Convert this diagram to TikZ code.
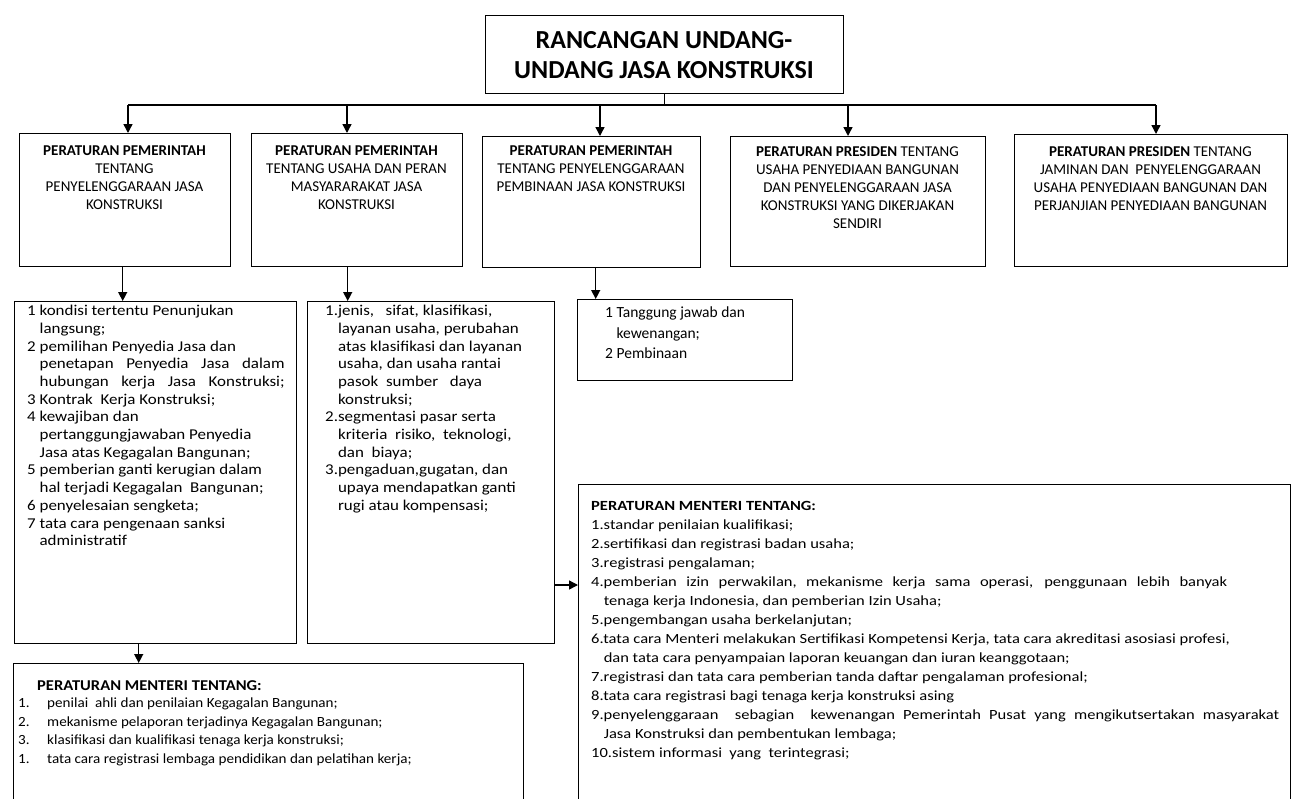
\documentclass[tikz,border=0pt]{standalone}
\usepackage{fontspec}
\setmainfont{Carlito}
\newfontfamily\widefont{Carlito}[FakeStretch=1.13]
\newfontfamily\botfont{Carlito}[FakeStretch=1.08]
\newfontfamily\bothead{Carlito}[FakeStretch=1.1]
\newfontfamily\bigfont{Carlito}[FakeStretch=1.18]
\usetikzlibrary{arrows.meta}
\begin{document}
\begin{tikzpicture}[x=1pt,y=-1pt,
  box/.style={draw, line width=1.4pt, anchor=north west, inner sep=0pt},
  conn/.style={line width=1.4pt},
  arr/.style={line width=1.4pt, -{Triangle[length=9pt,width=9pt]}},
  head/.style={inner sep=0pt, anchor=north, align=center, font=\fontsize{15}{18}\selectfont},
  lst/.style={inner sep=0pt, anchor=north west, align=left, font=\widefont\fontsize{15}{17.7}\selectfont},
  lstb/.style={inner sep=0pt, anchor=north west, align=left, font=\bigfont\fontsize{14}{19}\selectfont},
  ]
\useasboundingbox (0,0) rectangle (1293,798);
\clip (0,0) rectangle (1293,798);
% boxes
\node[box, minimum width=358pt, minimum height=78pt] (top) at (485,15) {};
\node[box, minimum width=211pt, minimum height=133pt] (b1) at (19,133) {};
\node[box, minimum width=211pt, minimum height=133pt] (b2) at (251,133) {};
\node[box, minimum width=218pt, minimum height=131pt] (b3) at (482,136) {};
\node[box, minimum width=255pt, minimum height=130pt] (b4) at (730,136) {};
\node[box, minimum width=273pt, minimum height=132pt] (b5) at (1014,134) {};
\node[box, minimum width=282pt, minimum height=342pt] (l1) at (14,301) {};
\node[box, minimum width=247pt, minimum height=342pt] (l2) at (307,301) {};
\node[box, minimum width=215pt, minimum height=81pt] (l3) at (577,299) {};
\node[box, minimum width=510pt, minimum height=160pt] (m1) at (13,663) {};
\node[box, minimum width=712pt, minimum height=340pt] (m2) at (578,484) {};
% texts
\node[inner sep=0pt, anchor=north, align=center, font=\bfseries\fontsize{26}{30}\selectfont] (ttop) at (664,31.5) {RANCANGAN UNDANG-\\UNDANG JASA KONSTRUKSI};
\node[head] (t1) at (124.5,146) {\textbf{PERATURAN PEMERINTAH}\\TENTANG\\PENYELENGGARAAN JASA\\KONSTRUKSI};
\node[head] (t2) at (356.5,146) {\textbf{PERATURAN PEMERINTAH}\\TENTANG USAHA DAN PERAN\\MASYARARAKAT JASA\\KONSTRUKSI};
\node[head] (t3) at (591,146) {\textbf{PERATURAN PEMERINTAH}\\TENTANG PENYELENGGARAAN\\PEMBINAAN JASA KONSTRUKSI};
\node[head] (t4) at (857.5,146) {\textbf{PERATURAN PRESIDEN} TENTANG\\USAHA PENYEDIAAN BANGUNAN\\DAN PENYELENGGARAAN JASA\\KONSTRUKSI YANG DIKERJAKAN\\SENDIRI};
\node[head] (t5) at (1150.5,146) {\textbf{PERATURAN PRESIDEN} TENTANG\\JAMINAN DAN\ \ PENYELENGGARAAN\\USAHA PENYEDIAAN BANGUNAN DAN\\PERJANJIAN PENYEDIAAN BANGUNAN};
\node[lst] (tl1) at (27,305) {1 kondisi tertentu Penunjukan\\
\hphantom{1~}langsung;\\
2 pemilihan Penyedia Jasa dan\\
\hphantom{2~}\makebox[245pt][s]{penetapan Penyedia Jasa dalam}\\
\hphantom{2~}\makebox[245pt][s]{hubungan kerja Jasa Konstruksi;}\\
3 Kontrak\ \ Kerja Konstruksi;\\
4 kewajiban dan\\
\hphantom{4~}pertanggungjawaban Penyedia\\
\hphantom{4~}Jasa atas Kegagalan Bangunan;\\
5 pemberian ganti kerugian dalam\\
\hphantom{5~}hal terjadi Kegagalan\ \ Bangunan;\\
6 penyelesaian sengketa;\\
7 tata cara pengenaan sanksi\\
\hphantom{7~}administratif};
\node[lst] (tl2) at (325,305) {1.jenis,\ \ \ sifat, klasifikasi,\\
\hphantom{1.}layanan usaha, perubahan\\
\hphantom{1.}atas klasifikasi\ dan\ layanan\\
\hphantom{1.}usaha,\ dan\ usaha\ rantai\\
\hphantom{1.}pasok\ \ sumber\ \ \ daya\\
\hphantom{1.}konstruksi;\\
2.segmentasi pasar serta\\
\hphantom{2.}kriteria\ \ risiko,\ \ teknologi,\\
\hphantom{2.}dan\ \ biaya;\\
3.pengaduan,gugatan,\ dan\\
\hphantom{3.}upaya\ mendapatkan\ ganti\\
\hphantom{3.}rugi atau kompensasi;};
\node[lst, font=\fontsize{15.5}{20.5}\selectfont] (tl3) at (605,307) {1 Tanggung jawab dan\\
\hphantom{1~}kewenangan;\\
2 Pembinaan};
\node[inner sep=0pt, anchor=north west, font=\bothead\bfseries\fontsize{15}{18}\selectfont] (hm1) at (37,680) {PERATURAN MENTERI TENTANG:};
\node[lstb, font=\botfont\fontsize{14}{18.7}\selectfont] (tm1) at (18,697.5) {\makebox[29pt][l]{1.}penilai\ \ ahli dan penilaian Kegagalan Bangunan;\\
\makebox[29pt][l]{2.}mekanisme pelaporan terjadinya\ Kegagalan\ Bangunan;\\
\makebox[29pt][l]{3.}klasifikasi dan kualifikasi tenaga kerja konstruksi;\\
\makebox[29pt][l]{1.}tata cara registrasi lembaga pendidikan dan pelatihan kerja;};
\node[lstb, font=\bigfont\fontsize{14}{19}\selectfont] (tm2) at (591,501) {\textbf{PERATURAN MENTERI TENTANG:}\\
1.standar penilaian kualifikasi;\\
2.sertifikasi dan registrasi badan usaha;\\
3.registrasi pengalaman;\\
\makebox[636pt][s]{4.pemberian\ izin perwakilan,\ mekanisme\ kerja\ sama\ operasi, penggunaan lebih\ banyak}\\
\hphantom{4.}tenaga\ kerja\ Indonesia, dan pemberian Izin Usaha;\\
5.pengembangan usaha\ berkelanjutan;\\
6.tata\ cara\ Menteri\ melakukan Sertifikasi Kompetensi Kerja, tata cara akreditasi asosiasi profesi,\\
\hphantom{6.}dan tata cara penyampaian laporan keuangan dan iuran keanggotaan;\\
7.registrasi dan tata cara pemberian tanda daftar pengalaman profesional;\\
8.tata cara registrasi bagi tenaga kerja konstruksi asing\\
\makebox[688pt][s]{9.penyelenggaraan\ \ sebagian\ \ kewenangan Pemerintah Pusat yang mengikutsertakan masyarakat}\\
\hphantom{9.}Jasa Konstruksi dan pembentukan lembaga;\\
10.sistem informasi\ \ yang\ \ terintegrasi;};
% connectors
\coordinate (busL) at (128,105);
\coordinate (bus2) at (347,105);
\coordinate (bus3) at (600,105);
\coordinate (bus4) at (848,105);
\coordinate (busR) at (1156,105);
\coordinate (side) at (0,585);
\draw[conn] (top.south) -- (top.south |- busL);
\draw[conn] (busL) -- (busR);
\draw[arr] (busL) -- (busL |- b1.north);
\draw[arr] (bus2) -- (bus2 |- b2.north);
\draw[arr] (bus3) -- (bus3 |- b3.north);
\draw[arr] (bus4) -- (bus4 |- b4.north);
\draw[arr] (busR) -- (busR |- b5.north);
\draw[arr] ([xshift=-2.5pt]b1.south) -- ([xshift=-2.5pt]b1.south |- l1.north);
\draw[arr] ([xshift=-9.5pt]b2.south) -- ([xshift=-9.5pt]b2.south |- l2.north);
\draw[arr] ([xshift=4pt]b3.south) -- ([xshift=4pt]b3.south |- l3.north);
\draw[arr] ([xshift=-17pt]l1.south) -- ([xshift=-17pt]l1.south |- m1.north);
\draw[arr] (l2.east |- side) -- (m2.west |- side);
\end{tikzpicture}
\end{document}
